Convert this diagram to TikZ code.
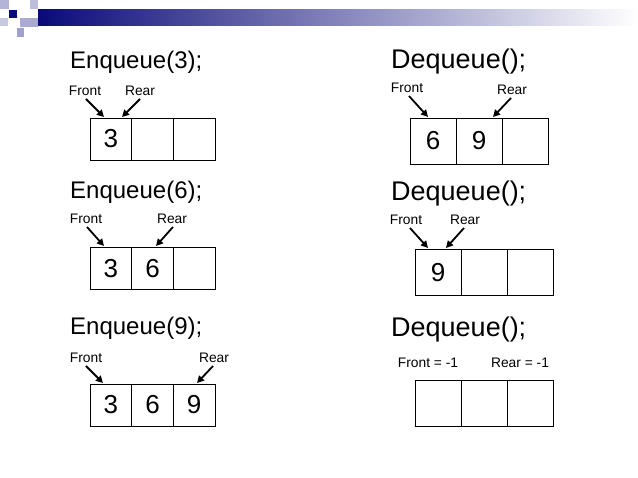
\documentclass[tikz,border=0pt]{standalone}
\usepackage{fontspec}
\setmainfont{Liberation Sans}
\usetikzlibrary{arrows.meta}
\definecolor{navy}{RGB}{10,10,120}
\definecolor{lb1}{RGB}{180,180,215}
\definecolor{lb2}{RGB}{190,190,220}
\definecolor{lb3}{RGB}{170,170,210}
\definecolor{lb4}{RGB}{160,160,205}
\definecolor{lb5}{RGB}{200,200,225}
\begin{document}
\begin{tikzpicture}[x=1pt,y=-1pt,
  cell/.style={draw,line width=0.9pt,minimum width=#1,minimum height=42pt,inner sep=0pt,font=\fontsize{26}{26}\selectfont},
  cell/.default=41.7pt,
  rcell/.style={cell=46pt,minimum height=46pt},
  lab/.style={font=\fontsize{13.8}{14}\selectfont,inner sep=0pt},
  ttl/.style={anchor=west,inner sep=0pt,font=\fontsize{24}{24}\selectfont},
  rttl/.style={anchor=west,inner sep=0pt,font=\fontsize{27}{27}\selectfont},
  arr/.style={line width=1.8pt,-{Triangle[length=7pt,width=7pt]}}]
\useasboundingbox (0,0) rectangle (638,478);
% banner
\shade[left color=navy,right color=white] (38,10) rectangle (638,26);
\fill[lb1] (0,0) rectangle (9,9);
\fill[navy] (9,10) rectangle (17,18);
\fill[lb2] (30,0) rectangle (38,9);
\fill[lb3] (20,18) rectangle (38,27);
\fill[lb4] (17,28) rectangle (24,37);
\fill[lb5] (0,18) rectangle (8,26);
% titles
\node[ttl] (t1) at (70,62) {Enqueue(3);};
\node[ttl] (t2) at (70,192) {Enqueue(6);};
\node[ttl] (t3) at (70,328) {Enqueue(9);};
\node[rttl] (t4) at (391,62) {Dequeue();};
\node[rttl] (t5) at (391,194) {Dequeue();};
\node[rttl] (t6) at (391,330) {Dequeue();};
% left boxes
\node[cell] (a1) at (110.8,139) {3};
\node[cell] (a2) at (152.5,139) {};
\node[cell] (a3) at (194.2,139) {};
\node[cell] (b1) at (110.8,268.5) {3};
\node[cell] (b2) at (152.5,268.5) {6};
\node[cell] (b3) at (194.2,268.5) {};
\node[cell] (c1) at (110.8,405) {3};
\node[cell] (c2) at (152.5,405) {6};
\node[cell] (c3) at (194.2,405) {9};
% right boxes
\node[rcell] (d1) at (433,141) {6};
\node[rcell] (d2) at (479,141) {9};
\node[rcell] (d3) at (525,141) {};
\node[rcell] (e1) at (438,272.5) {9};
\node[rcell] (e2) at (484,272.5) {};
\node[rcell] (e3) at (530,272.5) {};
\node[rcell] (f1) at (438,403) {};
\node[rcell] (f2) at (484,403) {};
\node[rcell] (f3) at (530,403) {};
% labels and arrows
\node[lab] (af) at (85,91) {Front};
\node[lab] (ar) at (140,91) {Rear};
\coordinate (afp) at (104,117); \coordinate (arp) at (122,117);
\draw[arr] (86,99) -- (afp); \draw[arr] (140,99) -- (arp);
\node[lab] (bf) at (86,219) {Front};
\node[lab] (br) at (172,219) {Rear};
\coordinate (bfp) at (104,246); \coordinate (brp) at (156,246);
\draw[arr] (87,227) -- (bfp); \draw[arr] (173,227) -- (brp);
\node[lab] (cf) at (86,358) {Front};
\node[lab] (cr) at (214,358) {Rear};
\coordinate (cfp) at (103,383); \coordinate (crp) at (197,383);
\draw[arr] (86,366) -- (cfp); \draw[arr] (213,366) -- (crp);
\node[lab] (df) at (407,88) {Front};
\node[lab] (dr) at (512,90) {Rear};
\coordinate (dfp) at (428,117); \coordinate (drp) at (493,117);
\draw[arr] (409,96) -- (dfp); \draw[arr] (511,98) -- (drp);
\node[lab] (ef) at (406,220) {Front};
\node[lab] (er) at (465,220) {Rear};
\coordinate (efp) at (428,248); \coordinate (erp) at (446,248);
\draw[arr] (410,228) -- (efp); \draw[arr] (464,228) -- (erp);
\node[lab] (ff) at (428,363) {Front = -1};
\node[lab] (fr) at (520,363) {Rear = -1};
\end{tikzpicture}
\end{document}
